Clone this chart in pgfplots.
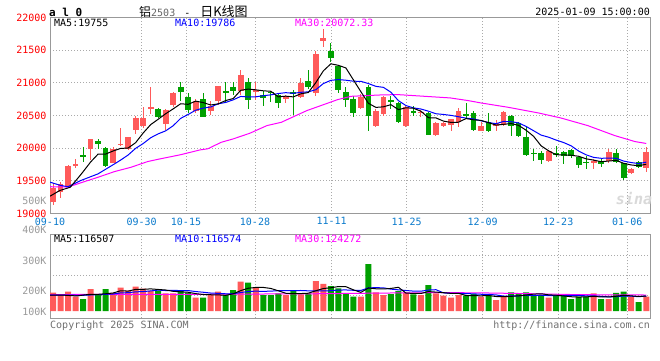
\documentclass[border=0pt]{standalone}
\usepackage{pgfplots}
\pgfplotsset{compat=1.18}
\usepackage{pgfplotstable}
\usepackage{fontspec}
\setmainfont{DejaVu Sans Mono}
\newfontfamily\cjk{Noto Sans CJK SC}
\definecolor{upred}{HTML}{FF5A5A}
\definecolor{dngreen}{HTML}{00A000}
\definecolor{pricered}{HTML}{FF0000}
\definecolor{datblue}{HTML}{0A7ACC}
\definecolor{framegray}{HTML}{999999}
\definecolor{gridgray}{HTML}{AAAAAA}
\definecolor{lblgray}{HTML}{9A9A9A}
\definecolor{copygray}{HTML}{707070}
\definecolor{titlegray}{HTML}{666666}
\definecolor{mablue}{HTML}{0000FF}
\definecolor{mamag}{HTML}{FF00FF}

\pgfplotstableread{
i o h l c v
0 19180 19472 19128 19390 142
1 19333 19487 19241 19446 124
2 19410 19744 19385 19734 150
3 19738 19836 19693 19748 111
5 19995 20144 19821 20134 171
8 19775 20011 19770 19990 140
9 20058 20313 20026 20066 181
10 19990 20170 19975 20164 158
11 20283 20488 20221 20467 189
12 20344 20631 20308 20467 174
13 20595 20944 20529 20636 158
15 20375 20600 20283 20590 137
16 20667 20857 20631 20837 137
19 20565 20760 20539 20719 104
21 20565 20729 20513 20652 127
22 20729 20944 20667 20944 150
25 20872 21191 20821 21114 228
27 20870 21020 20740 20891 181
31 20753 20815 20687 20794 124
33 20778 21075 20769 21003 130
35 20839 21482 20794 21446 233
36 21640 21820 21550 21687 210
41 20611 20830 20600 20778 111
43 20335 20600 20320 20575 145
44 20519 20804 20498 20789 124
47 20335 20651 20330 20626 142
49 20540 20590 20470 20560 124
51 20208 20400 20190 20381 137
52 20346 20400 20330 20381 119
53 20350 20450 20270 20440 104
54 20407 20616 20320 20575 124
57 20269 20407 20260 20335 111
59 20335 20433 20269 20386 85
60 20356 20564 20335 20549 111
66 19810 19974 19795 19963 104
72 19769 19836 19683 19800 137
74 19800 19989 19780 19938 93
77 19622 19698 19607 19678 111
79 19698 20014 19632 19938 111
}\upc

\pgfplotstableread{
i o h l c v
4 19898 20011 19795 19872 93
6 20113 20144 19990 20057 124
7 19995 20011 19718 19734 171
14 20600 20616 20462 20477 158
17 20944 21011 20729 20862 155
18 20790 20847 20539 20590 142
20 20760 20837 20472 20483 104
23 20872 21016 20693 20847 124
24 20944 21016 20821 20872 163
26 21018 21079 20605 20743 220
28 20820 20870 20650 20769 124
29 20865 20880 20710 20840 124
30 20815 20830 20616 20687 137
32 20865 20891 20509 20835 163
34 21033 21201 20906 20942 137
37 21482 21610 21316 21375 194
38 21253 21278 20839 20891 176
39 20865 20942 20625 20743 132
40 20753 20804 20473 20534 111
42 20942 20972 20269 20488 365
45 20743 20804 20600 20702 132
46 20692 20702 20381 20396 155
48 20575 20651 20498 20540 130
50 20540 20560 20203 20208 202
55 20524 20686 20448 20488 119
56 20540 20575 20270 20285 132
58 20407 20534 20243 20269 117
61 20488 20509 20193 20346 145
62 20386 20407 20167 20193 132
63 20167 20335 19887 19902 145
64 19933 19990 19810 19913 124
65 19922 19963 19760 19826 124
67 19928 20040 19861 19897 117
68 19938 19963 19760 19887 117
69 19979 19989 19851 19887 93
70 19861 19871 19698 19744 111
71 19795 19876 19683 19769 111
73 19800 19851 19719 19765 93
75 19922 19989 19780 19795 140
76 19769 19780 19515 19540 150
78 19795 19810 19693 19719 70
}\dnc

\pgfplotsset{
  wick/.style={draw=none, no markers, forget plot,
    error bars/.cd, y dir=both, y explicit, error mark=none,
    error bar style={draw=#1, solid, line width=1pt}},
  body/.style={draw=none, no markers, forget plot,
    error bars/.cd, y dir=both, y explicit, error mark=none,
    error bar style={draw=#1, solid, line width=5.8pt}},
}

\begin{document}
\begin{tikzpicture}[font=\fontsize{10pt}{12pt}\selectfont]
\useasboundingbox (0pt,0pt) rectangle (660pt,360pt);
\fill[white] (0pt,0pt) rectangle (660pt,360pt);

\begin{axis}[
  at={(50pt,146.5pt)}, anchor=south west, scale only axis,
  width=600pt, height=196pt,
  xmin=-0.4, xmax=79.5, ymin=19000, ymax=22000,
  scaled x ticks=false, scaled y ticks=false,
  axis line style={draw=framegray, line width=1pt},
  xtick={-0.4,11.81,17.71,26.9,37.11,47.1,57.22,67.28,76.47},
  xticklabels={09-10,09-30,10-15,10-28,11-11,11-25,12-09,12-23,01-06},
  ytick={19000,19500,20000,20500,21000,21500,22000},
  yticklabels={19000,19500,20000,20500,21000,21500,22000},
  major tick length=0pt, tick style={draw=none},
  xmajorgrids, ymajorgrids,
  grid style={draw=gridgray, dash pattern=on 1pt off 2pt, line width=0.9pt},
  xticklabel style={text=datblue, anchor=north, inner sep=0pt, yshift=-4pt},
  yticklabel style={text=pricered, anchor=east, inner sep=0pt, xshift=-3.3pt},
]
\addplot[wick=upred] table[x=i, y expr={(\thisrow{h}+\thisrow{l})/2}, y error expr={(\thisrow{h}-\thisrow{l})/2}] {\upc};
\addplot[body=upred] table[x=i, y expr={(\thisrow{o}+\thisrow{c})/2}, y error expr={max(abs(\thisrow{c}-\thisrow{o})/2,8)}] {\upc};
\addplot[wick=dngreen] table[x=i, y expr={(\thisrow{h}+\thisrow{l})/2}, y error expr={(\thisrow{h}-\thisrow{l})/2}] {\dnc};
\addplot[body=dngreen] table[x=i, y expr={(\thisrow{o}+\thisrow{c})/2}, y error expr={max(abs(\thisrow{c}-\thisrow{o})/2,8)}] {\dnc};

% MA30
\addplot[mamag, line width=1pt, mark=none] coordinates {
(-0.4,19410) (2,19405) (3.7,19470) (6,19555) (8.2,19642) (10.4,19708) (12.6,19795) (14,19830) (17,19900) (19.6,19974) (20.6,19990) (22.4,20090) (24,20142) (26.2,20228) (28.5,20346) (30.4,20396) (33.8,20575) (37.9,20743) (39.7,20794) (43.7,20815) (45.9,20820) (52.9,20769) (55.3,20728) (57,20692) (60.6,20626) (64.6,20540) (67.6,20463) (71.2,20346) (74.8,20193) (77.5,20101) (79,20072)
};
% MA10
\addplot[mablue, line width=1pt, mark=none] coordinates {
(-0.4,19480) (1,19430) (2,19410) (3.7,19505) (6,19607) (8.2,19760) (9,19817) (10,19895) (11,19997) (12,20070) (13,20159) (14,20219) (15,20265) (16,20343) (17,20456) (18,20516) (19,20581) (20,20613) (21,20631) (22,20679) (23,20700) (24,20740) (25,20792) (26,20783) (27,20786) (28,20803) (29,20816) (30,20836) (31,20850) (32,20839) (33,20855) (34,20862) (35,20895) (36,20989) (37,21038) (38,21050) (39,21040) (40,21025) (41,21023) (42,20989) (43,20946) (44,20931) (45,20856) (46,20727) (47,20652) (48,20617) (49,20599) (50,20566) (51,20527) (52,20516) (53,20502) (54,20481) (55,20460) (56,20448) (57,20419) (58,20392) (59,20375) (60,20409) (61,20405) (62,20387) (63,20333) (64,20267) (65,20200) (66,20168) (67,20124) (68,20086) (69,20036) (70,19956) (71,19898) (72,19859) (73,19845) (74,19848) (75,19845) (76,19802) (77,19780) (78,19764) (79,19786)
};
% MA5
\addplot[black, line width=1pt, mark=none] coordinates {
(-0.4,19265) (0.9,19352) (2.3,19402) (3.6,19581) (4,19638) (5,19787) (6,19909) (7,19909) (8,19957) (9,19996) (10,20002) (11,20084) (12,20231) (13,20360) (14,20442) (15,20527) (16,20601) (17,20680) (18,20671) (19,20720) (20,20698) (21,20661) (22,20678) (23,20729) (24,20760) (25,20886) (26,20904) (27,20893) (28,20878) (29,20871) (30,20786) (31,20796) (32,20785) (33,20832) (34,20852) (35,21004) (36,21183) (37,21291) (38,21268) (39,21228) (40,21046) (41,20864) (42,20687) (43,20624) (44,20633) (45,20666) (46,20590) (47,20618) (48,20611) (49,20565) (50,20466) (51,20463) (52,20414) (53,20394) (54,20397) (55,20453) (56,20434) (57,20425) (58,20390) (59,20353) (60,20365) (61,20377) (62,20349) (63,20275) (64,20181) (65,20036) (66,19959) (67,19900) (68,19897) (69,19892) (70,19876) (71,19837) (72,19817) (73,19793) (74,19803) (75,19813) (76,19768) (77,19743) (78,19731) (79,19755)
};
\end{axis}

\begin{axis}[
  at={(50pt,41.7pt)}, anchor=south west, scale only axis,
  width=600pt, height=84pt,
  xmin=-0.4, xmax=79.5, ymin=-56.7, ymax=596,
  scaled x ticks=false, scaled y ticks=false,
  axis line style={draw=framegray, line width=1pt},
  xtick={-0.4,11.81,17.71,26.9,37.11,47.1,57.22,67.28,76.47},
  xticklabels={}, ytick={124,280,435}, yticklabels={},
  major tick length=0pt, tick style={draw=none},
  xmajorgrids, ymajorgrids,
  grid style={draw=gridgray, dash pattern=on 1pt off 2pt, line width=0.9pt},
]
\addplot[ybar, bar width=6pt, bar shift=0pt, fill=upred, draw=none, forget plot] table[x=i, y=v] {\upc};
\addplot[ybar, bar width=6pt, bar shift=0pt, fill=dngreen, draw=none, forget plot] table[x=i, y=v] {\dnc};
\addplot[mamag, line width=1pt, mark=none] coordinates {
(-0.4,128) (20,130) (35,134) (45,140) (52,143) (57,141) (63,135) (70,127) (79,124.3)
};
\addplot[mablue, line width=1pt, mark=none] coordinates {
(-0.4,124) (4,122) (8,132) (9,140.7) (10,142.3) (11,148.8) (12,151.2) (13,155.9) (14,162.4) (15,159) (16,160.3) (17,158.7) (18,158.9) (19,151.2) (20,145.8) (21,139.6) (22,137.2) (23,133.8) (24,134.3) (25,143.4) (26,151.7) (27,154.3) (28,152.5) (29,154.5) (30,157.8) (31,157.5) (32,158.8) (33,159.4) (34,156.8) (35,157.3) (36,156.3) (37,157.6) (38,162.8) (39,163.6) (40,161) (41,159.7) (42,179.9) (43,181.4) (44,180.1) (45,170) (46,164.5) (47,159.3) (48,154.7) (49,153.9) (50,163) (51,165.6) (52,141) (53,136.9) (54,136.9) (55,135.6) (56,133.3) (57,130.2) (58,128.9) (59,125) (60,115.9) (61,116.7) (62,118) (63,122.1) (64,122.1) (65,122.6) (66,119.8) (67,120.4) (68,120.4) (69,121.2) (70,121.2) (71,117.8) (72,118.3) (73,113.1) (74,110) (75,111.6) (76,116.2) (77,115.6) (78,110.9) (79,116.6)
};
\addplot[black, line width=1pt, mark=none] coordinates {
(-0.4,124) (1.2,124) (3.2,117) (4,124) (5,129.8) (6,129.8) (7,134) (8,139.8) (9,157.4) (10,154.8) (11,167.8) (12,168.4) (13,172) (14,167.4) (15,163.2) (16,152.8) (17,149) (18,145.8) (19,135) (20,128.4) (21,126.4) (22,125.4) (23,121.8) (24,133.6) (25,158.4) (26,177) (27,183.2) (28,183.2) (29,175.4) (30,157.2) (31,138) (32,134.4) (33,135.6) (34,138.2) (35,157.4) (36,174.6) (37,180.8) (38,190) (39,189) (40,164.6) (41,144.8) (42,179) (43,172.8) (44,171.2) (45,175.4) (46,184.2) (47,139.6) (48,136.6) (49,136.6) (50,150.6) (51,147) (52,142.4) (53,137.2) (54,137.2) (55,120.6) (56,119.6) (57,118) (58,120.6) (59,112.8) (60,111.2) (61,113.8) (62,118) (63,123.6) (64,131.4) (65,134) (66,125.8) (67,122.8) (68,117.2) (69,111) (70,108.4) (71,109.8) (72,113.8) (73,109) (74,109) (75,114.8) (76,122.6) (77,117.4) (78,112.8) (79,116.5)
};
\end{axis}

% header texts
\node[anchor=base west, inner sep=0pt, font=\bfseries\fontsize{11pt}{12pt}\selectfont] at (49pt,344pt) {a l 0};
\node[anchor=base west, inner sep=0pt] at (139pt,344pt) {{\cjk\fontsize{12pt}{12pt}\selectfont 铝}{\color{titlegray}2503}\hspace{9pt}-\hspace{10pt}{\cjk\fontsize{13pt}{13pt}\selectfont 日K线图}};
\node[anchor=base east, inner sep=0pt] at (650pt,344.3pt) {2025-01-09 15:00:00};
\node[anchor=base west, inner sep=0pt] at (54pt,333.3pt) {MA5:19755};
\node[anchor=base west, inner sep=0pt, text=mablue] at (175pt,333.3pt) {MA10:19786};
\node[anchor=base west, inner sep=0pt, text=mamag] at (295pt,333.3pt) {MA30:20072.33};
% volume panel texts
\node[anchor=base west, inner sep=0pt] at (54pt,118pt) {MA5:116507};
\node[anchor=base west, inner sep=0pt, text=mablue] at (175pt,118pt) {MA10:116574};
\node[anchor=base west, inner sep=0pt, text=mamag] at (295pt,118pt) {MA30:124272};
\node[anchor=base east, inner sep=0pt, text=lblgray] at (46.7pt,156pt) {500K};
\node[anchor=base east, inner sep=0pt, text=lblgray] at (46.7pt,126.5pt) {400K};
\node[anchor=base east, inner sep=0pt, text=lblgray] at (46.7pt,96pt) {300K};
\node[anchor=base east, inner sep=0pt, text=lblgray] at (46.7pt,66pt) {200K};
\node[anchor=base east, inner sep=0pt, text=lblgray] at (46.7pt,45pt) {100K};
% footer
\node[anchor=base west, inner sep=0pt, text=copygray] at (50pt,32pt) {Copyright 2025 SINA.COM};
\node[anchor=base east, inner sep=0pt, text=copygray] at (650pt,32pt) {http://finance.sina.com.cn};
% watermark
\node[text=black!15, font=\bfseries\itshape\fontsize{15pt}{15pt}\selectfont] at (634pt,161pt) {sina};
\end{tikzpicture}
\end{document}
